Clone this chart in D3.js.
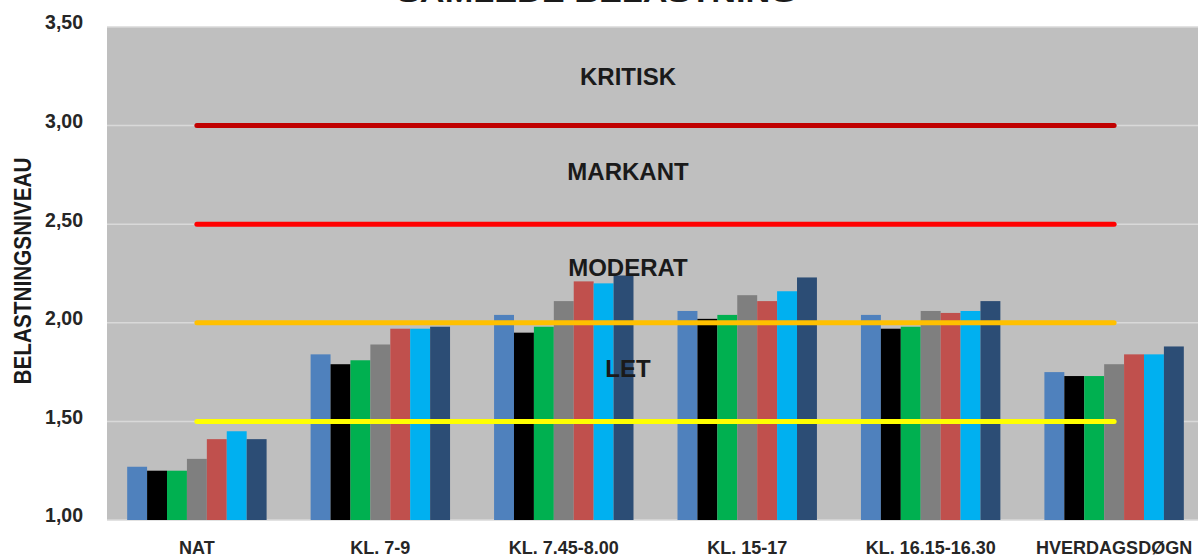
<!DOCTYPE html>
<html>
<head>
<meta charset="utf-8">
<script src="https://cdn.jsdelivr.net/npm/d3@7"></script>
<style>
  html, body { margin: 0; padding: 0; background: #fff; overflow: hidden; }
  svg { display: block; font-family: "Liberation Sans", Arial, sans-serif; }
</style>
</head>
<body>
<div id="chart"></div>
<script>
const categories = ["NAT", "KL. 7-9", "KL. 7.45-8.00", "KL. 15-17", "KL. 16.15-16.30", "HVERDAGSDØGN"];
const seriesNames = ["Serie 1", "Serie 2", "Serie 3", "Serie 4", "Serie 5", "Serie 6", "Serie 7"];
const seriesColors = ["#4f81bd", "#000000", "#00b050", "#7f7f7f", "#c0504d", "#00b0f0", "#2c4d75"];

// one array per category, values in series order
const natValues = [1.27, 1.25, 1.25, 1.31, 1.41, 1.45, 1.41];
const kl79Values = [1.84, 1.79, 1.81, 1.89, 1.97, 1.97, 1.98];
const kl745Values = [2.04, 1.95, 1.98, 2.11, 2.21, 2.20, 2.24];
const kl1517Values = [2.06, 2.02, 2.04, 2.14, 2.11, 2.16, 2.23];
const kl1615Values = [2.04, 1.97, 1.98, 2.06, 2.05, 2.06, 2.11];
const dognValues = [1.75, 1.73, 1.73, 1.79, 1.84, 1.84, 1.88];
const values = [natValues, kl79Values, kl745Values, kl1517Values, kl1615Values, dognValues];

const yTicks = [1.0, 1.5, 2.0, 2.5, 3.0, 3.5];
const thresholds = [3.0, 2.5, 2.0, 1.5];
const thresholdColors = ["#c00000", "#ff0000", "#ffc000", "#ffff00"];
const zoneLabels = ["KRITISK", "MARKANT", "MODERAT", "LET"];
const zoneLabelLevels = [3.25, 2.77, 2.28, 1.77];

const title = "SAMLEDE BELASTNING";
const yTitle = "BELASTNINGSNIVEAU";

const W = 1198, H = 557;
const plot = { left: 107, top: 27, bottom: 520 };

const svg = d3.select("#chart").append("svg")
  .attr("width", W).attr("height", H);

const x = d3.scaleBand()
  .domain(categories)
  .range([plot.left, 1204])
  .paddingInner(0.24)
  .paddingOuter(0.11);

const xs = d3.scaleBand()
  .domain(seriesNames)
  .range([0, x.bandwidth()]);

const y = d3.scaleLinear()
  .domain([1, 3.5])
  .range([plot.bottom, plot.top]);

// plot area background
svg.append("rect")
  .attr("x", plot.left).attr("y", plot.top)
  .attr("width", W - plot.left).attr("height", plot.bottom - plot.top)
  .attr("fill", "#bfbfbf");

// gridlines
svg.append("g")
  .selectAll("line")
  .data(yTicks)
  .join("line")
  .attr("x1", plot.left).attr("x2", W)
  .attr("y1", d => y(d)).attr("y2", d => y(d))
  .attr("stroke", "#d9d9d9")
  .attr("stroke-width", 1.5);

// y axis labels
const yAxis = svg.append("g")
  .attr("transform", `translate(${plot.left - 24},0)`)
  .call(d3.axisLeft(y).tickValues(yTicks).tickSize(0).tickPadding(0)
    .tickFormat(d => d3.format(".2f")(d).replace(".", ",")));
yAxis.select(".domain").remove();
yAxis.selectAll("text")
  .attr("font-family", "'Liberation Sans', Arial, sans-serif")
  .attr("font-size", 19.5)
  .attr("font-weight", "bold")
  .attr("fill", "#262626")
  .attr("dy", "0.1em");

// x axis labels (cut off at the bottom edge, as in the original)
const xAxis = svg.append("g")
  .attr("transform", `translate(0,${plot.bottom})`)
  .call(d3.axisBottom(x).tickSize(0).tickPadding(21));
xAxis.select(".domain").remove();
xAxis.selectAll("text")
  .attr("font-family", "'Liberation Sans', Arial, sans-serif")
  .attr("font-size", 18)
  .attr("font-weight", "bold")
  .attr("fill", "#262626");

// bars
const groups = svg.append("g")
  .selectAll("g")
  .data(categories)
  .join("g")
  .attr("transform", d => `translate(${x(d)},0)`);

groups.selectAll("rect")
  .data((d, i) => values[i].map((v, j) => ({ name: seriesNames[j], value: v, color: seriesColors[j] })))
  .join("rect")
  .attr("x", d => xs(d.name))
  .attr("width", xs.bandwidth())
  .attr("y", d => y(d.value))
  .attr("height", d => y(1) - y(d.value))
  .attr("fill", d => d.color);

// threshold lines from first to last category centre
const cx0 = x(categories[0]) + x.bandwidth() / 2;
const cx1 = x(categories[categories.length - 1]) + x.bandwidth() / 2;

svg.append("g")
  .selectAll("line")
  .data(thresholds)
  .join("line")
  .attr("x1", cx0).attr("x2", cx1)
  .attr("y1", d => y(d)).attr("y2", d => y(d))
  .attr("stroke", (d, i) => thresholdColors[i])
  .attr("stroke-width", 5)
  .attr("stroke-linecap", "round");

// zone labels
const labelX = cx0 + (cx1 - cx0) * 0.47;
svg.append("g")
  .selectAll("text")
  .data(zoneLabels)
  .join("text")
  .attr("x", labelX)
  .attr("y", (d, i) => y(zoneLabelLevels[i]))
  .attr("dy", "0.36em")
  .attr("text-anchor", "middle")
  .attr("font-size", 24)
  .attr("font-weight", "bold")
  .attr("fill", "#1a1a1a")
  .text(d => d);

// y axis title
svg.append("text")
  .attr("transform", `translate(31,${271}) rotate(-90)`)
  .attr("text-anchor", "middle")
  .attr("font-size", 23)
  .attr("font-weight", "bold")
  .attr("fill", "#1a1a1a")
  .attr("textLength", 227)
  .attr("lengthAdjust", "spacingAndGlyphs")
  .text(yTitle);

// chart title (cut off at the top edge)
svg.append("text")
  .attr("x", 597)
  .attr("y", 2)
  .attr("text-anchor", "middle")
  .attr("font-size", 24)
  .attr("font-weight", "bold")
  .attr("fill", "#1a1a1a")
  .attr("textLength", 400)
  .attr("lengthAdjust", "spacingAndGlyphs")
  .text(title);
</script>
</body>
</html>
